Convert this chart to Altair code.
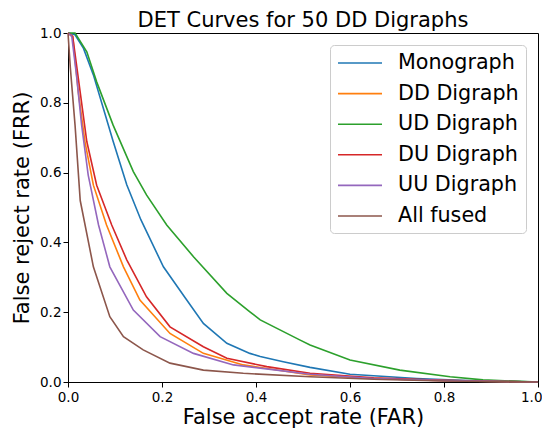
import altair as alt
import pandas as pd

series_names = ["Monograph", "DD Digraph", "UD Digraph", "DU Digraph", "UU Digraph", "All fused"]
series_colors = ["#1f77b4", "#ff7f0e", "#2ca02c", "#d62728", "#9467bd", "#8c564b"]

mono_far = [0.0, 0.015, 0.033, 0.054, 0.075, 0.096, 0.125, 0.155, 0.203, 0.25, 0.288, 0.338, 0.387, 0.409, 0.458, 0.515, 0.6, 0.742, 0.85, 1.0]
mono_frr = [1.0, 0.995, 0.956, 0.88, 0.785, 0.69, 0.565, 0.465, 0.33, 0.24, 0.168, 0.111, 0.082, 0.073, 0.058, 0.042, 0.022, 0.01, 0.004, 0.0]

dd_far = [0.0, 0.01, 0.022, 0.036, 0.054, 0.082, 0.118, 0.153, 0.217, 0.288, 0.373, 0.515, 0.65, 0.8, 1.0]
dd_frr = [1.0, 0.99, 0.83, 0.689, 0.564, 0.45, 0.33, 0.235, 0.139, 0.082, 0.049, 0.02, 0.01, 0.004, 0.0]

ud_far = [0.0, 0.015, 0.04, 0.061, 0.096, 0.139, 0.167, 0.21, 0.267, 0.338, 0.387, 0.409, 0.494, 0.515, 0.6, 0.706, 0.813, 0.883, 1.0]
ud_frr = [1.0, 1.0, 0.946, 0.86, 0.736, 0.603, 0.536, 0.45, 0.359, 0.254, 0.201, 0.178, 0.12, 0.106, 0.063, 0.034, 0.015, 0.006, 0.0]

du_far = [0.0, 0.01, 0.026, 0.04, 0.061, 0.093, 0.125, 0.167, 0.217, 0.288, 0.338, 0.423, 0.515, 0.65, 0.8, 1.0]
du_frr = [1.0, 0.99, 0.83, 0.689, 0.564, 0.45, 0.35, 0.244, 0.158, 0.101, 0.068, 0.044, 0.025, 0.012, 0.005, 0.0]

uu_far = [0.0, 0.008, 0.018, 0.029, 0.043, 0.065, 0.089, 0.139, 0.196, 0.267, 0.352, 0.515, 0.65, 0.8, 1.0]
uu_frr = [1.0, 0.99, 0.88, 0.736, 0.593, 0.45, 0.33, 0.206, 0.13, 0.082, 0.049, 0.022, 0.01, 0.004, 0.0]

fused_far = [0.0, 0.005, 0.015, 0.026, 0.054, 0.089, 0.118, 0.16, 0.217, 0.288, 0.373, 0.515, 0.65, 0.8, 1.0]
fused_frr = [1.0, 0.9, 0.736, 0.52, 0.33, 0.187, 0.13, 0.092, 0.054, 0.034, 0.025, 0.015, 0.008, 0.003, 0.0]

tick_values = [0.0, 0.2, 0.4, 0.6, 0.8, 1.0]

rows = []
for name, xs, ys in zip(series_names,
                        [mono_far, dd_far, ud_far, du_far, uu_far, fused_far],
                        [mono_frr, dd_frr, ud_frr, du_frr, uu_frr, fused_frr]):
    for i, (a, b) in enumerate(zip(xs, ys)):
        rows.append({"series": name, "far": a, "frr": b, "idx": i})
df = pd.DataFrame(rows)

FONT = "DejaVu Sans"

chart = alt.Chart(df).mark_line(strokeWidth=1.6).encode(
    x=alt.X("far:Q", scale=alt.Scale(domain=[0, 1], nice=False, zero=False),
            axis=alt.Axis(title="False accept rate (FAR)", values=tick_values, format=".1f",
                          grid=False, labelFontSize=13.5, titleFontSize=21, titleFontWeight="normal",
                          labelFont=FONT, titleFont=FONT, labelColor="black", titleColor="black",
                          domainColor="black", tickColor="black", tickSize=5, labelPadding=3,
                          titlePadding=2.5, labelFlush=False,
                          labelAlign={"condition": {"test": "datum.value == 1", "value": "right"}, "value": "center"},
                          labelOffset={"condition": {"test": "datum.value == 1", "value": 4}, "value": 0})),
    y=alt.Y("frr:Q", scale=alt.Scale(domain=[0, 1], nice=False, zero=False),
            axis=alt.Axis(title="False reject rate (FRR)", values=tick_values, format=".1f",
                          grid=False, labelFontSize=13.5, titleFontSize=21, titleFontWeight="normal",
                          labelFont=FONT, titleFont=FONT, labelColor="black", titleColor="black",
                          domainColor="black", tickColor="black", tickSize=5, labelPadding=2,
                          titlePadding=7, labelFlush=False)),
    color=alt.Color("series:N", scale=alt.Scale(domain=series_names, range=series_colors),
                    sort=series_names,
                    legend=alt.Legend(title=None, orient="none", legendX=262, legendY=12,
                                      symbolType="M-1,0H3.4", symbolSize=400, symbolStrokeWidth=1.6,
                                      labelFontSize=20.7, labelFont=FONT, labelColor="black",
                                      labelOffset=39, rowPadding=9.6, padding=7,
                                      strokeColor="#cccccc", cornerRadius=4, fillColor="white",
                                      labelLimit=300)),
    order=alt.Order("idx:Q"),
).properties(
    width=470, height=349,
    title=alt.TitleParams("DET Curves for 50 DD Digraphs", fontSize=21, font=FONT,
                          fontWeight="normal", color="black", anchor="middle", offset=6, dy=10.5),
    autosize=alt.AutoSizeParams(type="none"),
    padding={"left": 60, "top": 25, "right": 4, "bottom": 46},
).configure_view(stroke="black", strokeWidth=1)

chart.save("out.html", embed_options={"renderer": "svg", "actions": False})
